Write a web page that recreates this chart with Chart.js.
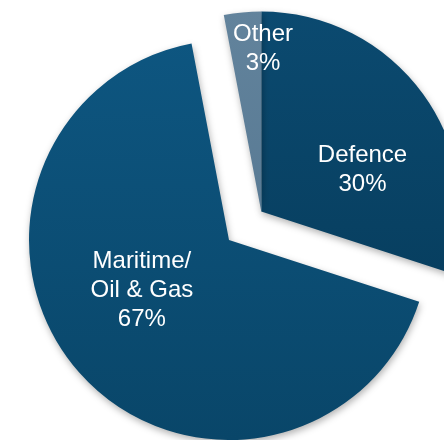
<!DOCTYPE html>
<html>
<head>
<meta charset="utf-8">
<script src="https://cdn.jsdelivr.net/npm/chart.js@4/dist/chart.umd.min.js"></script>
<style>
  html, body { margin: 0; padding: 0; background: #fff; overflow: hidden; }
  #wrap { position: relative; width: 444px; height: 440px; }
</style>
</head>
<body>
<div id="wrap"><canvas id="pieChart"></canvas></div>
<script>
// market share by sector
const sectors = [["Defence"], ["Maritime/", "Oil & Gas"], ["Other"]];
const shares = [30, 67, 3];

// slices pulled out of the pie together (Defence + Other)
const pulled = [0, 2];
const pullDistance = 43;

// label placement: [fraction of radius, angle tweak in degrees]
const labelSpots = [[0.55, 13], [0.5, 12], [0.82, 6]];

const topColors = ["#0b4a70", "#0e5782", "#62839c"];
const bottomColors = ["#053856", "#094669", "#4f718c"];

function sliceFill(context) {
  const area = context.chart.chartArea;
  const i = context.dataIndex;
  if (!area) return topColors[i];
  const g = context.chart.ctx.createLinearGradient(0, area.top - 30, 0, area.bottom);
  g.addColorStop(0, topColors[i]);
  g.addColorStop(1, bottomColors[i]);
  return g;
}

const explodePlugin = {
  id: "explode",
  afterDatasetUpdate(chart, args) {
    const arcs = args.meta.data;
    const first = arcs[pulled[1]], last = arcs[pulled[0]];
    const mid = (first.startAngle - 2 * Math.PI + last.endAngle) / 2;
    const dx = Math.cos(mid) * pullDistance;
    const dy = Math.sin(mid) * pullDistance;
    pulled.forEach(function (i) {
      arcs[i].x += dx;
      arcs[i].y += dy;
    });
  }
};

const shadowPlugin = {
  id: "softShadow",
  beforeDatasetsDraw(chart) {
    const ctx = chart.ctx;
    ctx.save();
    ctx.shadowColor = "rgba(0,0,0,0.3)";
    ctx.shadowBlur = 7;
    ctx.shadowOffsetX = 1;
    ctx.shadowOffsetY = 3;
  },
  afterDatasetsDraw(chart) {
    chart.ctx.restore();
  }
};

const labelPlugin = {
  id: "sliceLabels",
  afterDraw(chart) {
    const ctx = chart.ctx;
    const arcs = chart.getDatasetMeta(0).data;
    ctx.save();
    ctx.fillStyle = "#ffffff";
    ctx.font = "24px 'Liberation Sans', Arial, sans-serif";
    ctx.textAlign = "center";
    ctx.textBaseline = "alphabetic";
    arcs.forEach(function (arc, i) {
      const spot = labelSpots[i];
      const a = (arc.startAngle + arc.endAngle) / 2 + spot[1] * Math.PI / 180;
      const r = arc.outerRadius * spot[0];
      const x = arc.x + Math.cos(a) * r;
      const y = arc.y + Math.sin(a) * r;
      const lines = sectors[i].concat([shares[i] + "%"]);
      const lh = 29;
      // baseline sits about half a cap height below the line centre
      const top = y - (lines.length - 1) * lh / 2 + 8;
      lines.forEach(function (t, k) {
        ctx.fillText(t, x, top + k * lh);
      });
    });
    ctx.restore();
  }
};

new Chart(document.getElementById("pieChart"), {
  type: "pie",
  data: {
    labels: sectors.map(function (s) { return s.join(" "); }),
    datasets: [{
      data: shares,
      backgroundColor: sliceFill,
      borderWidth: 0
    }]
  },
  options: {
    responsive: true,
    maintainAspectRatio: false,
    animation: false,
    radius: 200,
    rotation: 0,
    layout: { padding: { left: 14, top: 40, right: 0, bottom: 0 } },
    plugins: {
      legend: { display: false },
      tooltip: { enabled: false }
    }
  },
  plugins: [explodePlugin, shadowPlugin, labelPlugin]
});
</script>
</body>
</html>
